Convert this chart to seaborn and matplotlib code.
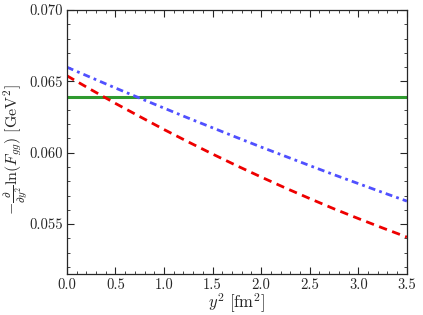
import matplotlib
matplotlib.use("Agg")
import matplotlib.pyplot as plt
import seaborn as sns
import pandas as pd
from matplotlib.ticker import MultipleLocator, FormatStrFormatter

# data
y2 = [0.0, 0.25, 0.5, 0.75, 1.0, 1.25, 1.5, 1.75, 2.0, 2.25, 2.5, 2.75, 3.0, 3.25, 3.5]
blue_vals = [0.06600, 0.06527, 0.06454, 0.06383, 0.06313, 0.06243, 0.06175, 0.06107,
             0.06040, 0.05975, 0.05910, 0.05846, 0.05784, 0.05722, 0.05661]
red_vals = [0.06540, 0.06442, 0.06346, 0.06254, 0.06163, 0.06076, 0.05991, 0.05909,
            0.05830, 0.05753, 0.05679, 0.05607, 0.05539, 0.05473, 0.05409]
green_vals = [0.0639] * len(y2)

sns.set_theme(style="ticks")
plt.rcParams.update({
    "font.family": "serif",
    "font.serif": ["cmr10"],
    "mathtext.fontset": "cm",
    "axes.formatter.use_mathtext": True,
    "axes.unicode_minus": False,
    "font.size": 11,
})

fig = plt.figure(figsize=(4.23, 3.15), dpi=100)
ax = fig.add_axes([0.158, 0.130, 0.804, 0.838])

df_g = pd.DataFrame({"x": y2, "y": green_vals})
df_b = pd.DataFrame({"x": y2, "y": blue_vals})
df_r = pd.DataFrame({"x": y2, "y": red_vals})

sns.lineplot(data=df_g, x="x", y="y", ax=ax, color="#2e9a2e", lw=2.2)
sns.lineplot(data=df_b, x="x", y="y", ax=ax, color="#5050ff", lw=2.0, linestyle=(0, (2.5, 1.5, 1, 1.5)))
sns.lineplot(data=df_r, x="x", y="y", ax=ax, color="#ee0000", lw=2.0, linestyle=(0, (3, 2)))

ax.set_xlim(0.0, 3.5)
ax.set_ylim(0.0515, 0.070)
ax.xaxis.set_major_locator(MultipleLocator(0.5))
ax.xaxis.set_minor_locator(MultipleLocator(0.1))
ax.yaxis.set_major_locator(MultipleLocator(0.005))
ax.yaxis.set_minor_locator(MultipleLocator(0.001))
ax.xaxis.set_major_formatter(FormatStrFormatter("%.1f"))
ax.yaxis.set_major_formatter(FormatStrFormatter("%.3f"))
ax.tick_params(which="both", direction="in", top=True, right=True, labelsize=10.5)
ax.tick_params(which="major", length=5, width=0.8, pad=3)
ax.tick_params(which="minor", length=2.5, width=0.6)
for s in ax.spines.values():
    s.set_linewidth(0.9)

ax.set_xlabel(r"$y^2\ [\mathrm{fm}^2]$", fontsize=12, labelpad=0)
ax.set_ylabel(r"$-\frac{\partial}{\partial y^2}\ln(F_{gg})\ [\mathrm{GeV}^2]$", fontsize=11.5)
ax.yaxis.set_label_coords(-0.108, 0.47)

fig.savefig("out.png", dpi=100)
